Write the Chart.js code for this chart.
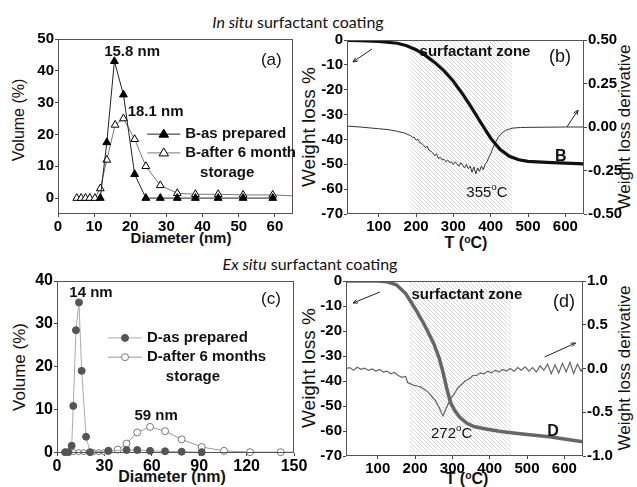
<!DOCTYPE html>
<html>
<head>
<meta charset="utf-8">
<script src="https://cdn.jsdelivr.net/npm/chart.js@4.4.0/dist/chart.umd.min.js"></script>
<style>
  body { margin: 0; background: #fff; width: 637px; height: 487px; overflow: hidden; position: relative;
         font-family: "Liberation Sans", Arial, sans-serif; color: #111; }
  canvas { position: absolute; left: 0; top: 0; }
  .t { position: absolute; white-space: nowrap; }
  .head { font-family: Lato, "Open Sans", sans-serif; font-size: 16px; transform: translate(-50%, -50%); }
  .rot { transform: translate(-50%, -50%) rotate(-90deg); }
  .xt { transform: translate(-50%, -50%); font-weight: bold; font-size: 15px; }
  sup { font-size: 0.65em; vertical-align: 0.5em; line-height: 0; }
</style>
</head>
<body>
<div class="t head" style="left:298px;top:21px"><i>In situ</i> surfactant coating</div>
<div class="t head" style="left:310px;top:263px"><i>Ex situ</i> surfactant coating</div>

<div class="t rot" style="left:19px;top:120px;font-size:16px">Volume (%)</div>
<div class="t xt" style="left:181px;top:237px">Diameter (nm)</div>
<div class="t rot" style="left:309px;top:127px;font-size:19px">Weight loss %</div>
<div class="t rot" style="left:625px;top:127px;font-size:17px">Weight loss derivative</div>
<div class="t xt" style="left:466px;top:243px;font-size:16px">T (<sup>o</sup>C)</div>

<div class="t rot" style="left:20px;top:367px;font-size:17px">Volume (%)</div>
<div class="t xt" style="left:172px;top:477px;font-size:16px">Diameter (nm)</div>
<div class="t rot" style="left:309px;top:368px;font-size:19px">Weight loss %</div>
<div class="t rot" style="left:625px;top:368px;font-size:17px">Weight loss derivative</div>
<div class="t xt" style="left:467px;top:479px;font-size:16px">T (<sup>o</sup>C)</div>

<canvas id="ca" width="637" height="487"></canvas>
<canvas id="cb" width="637" height="487"></canvas>
<canvas id="cc" width="637" height="487"></canvas>
<canvas id="cd" width="637" height="487"></canvas>

<script>
// (a) particle size, in situ coating
const aXTicks = [0, 10, 20, 30, 40, 50, 60];
const aYTicks = [0, 10, 20, 30, 40, 50];
const aPrepX = [11.7, 13.5, 15.6, 18.1, 21.2, 24.3, 28.3, 33, 38, 44.3, 51.2, 59.4];
const aPrepY = [0, 17.5, 43, 32.5, 7.5, 0, 0, 0, 0, 0, 0, 0];
const aStoreX = [5.2, 6.4, 7.6, 8.8, 10.2, 11.7, 13.5, 15.8, 18.1, 21.2, 24.3, 28.3, 33, 38, 44.3, 51.2, 59.4, 65];
const aStoreY = [0, 0, 0, 0, 0, 3, 12, 23, 25, 18.5, 10, 4, 1.5, 1.2, 1.2, 1, 1, 0.7];

// (b) TGA, in situ coating
const tTicks = [100, 200, 300, 400, 500, 600];
const lossTicks = [0, -10, -20, -30, -40, -50, -60, -70];
const bDerivTicks = [0.5, 0.25, 0, -0.25, -0.5];
const bT = [15, 50, 100, 150, 175, 200, 225, 250, 275, 300, 325, 350, 375, 400, 425, 450, 475, 500, 550, 600, 650];
const bLoss = [-0.2, -0.3, -0.6, -1.3, -2.3, -3.9, -6.2, -9.0, -12.4, -16.6, -21.8, -27.5, -33.6, -39.5, -44.0, -46.8, -48.2, -48.8, -49.2, -49.5, -49.8];
const bDerivT = [15, 50, 75, 100, 125, 150, 170, 185, 190, 195, 200, 205, 210, 215, 220, 225, 230, 235, 240, 245,
  250, 255, 260, 265, 270, 275, 280, 285, 290, 295, 300, 305, 310, 315, 320, 325, 330, 335, 340, 345,
  350, 355, 360, 365, 370, 375, 380, 385, 390, 395, 400, 405, 410, 415, 420, 430, 440, 450, 460, 480,
  500, 550, 600, 650];
const bDeriv = [0.005, 0, -0.005, -0.01, -0.015, -0.025, -0.035, -0.05, -0.06, -0.058, -0.075, -0.07, -0.09, -0.095, -0.105, -0.118, -0.11, -0.135, -0.14, -0.15,
  -0.165, -0.155, -0.18, -0.175, -0.19, -0.185, -0.2, -0.19, -0.205, -0.2, -0.215, -0.2, -0.212, -0.225, -0.205, -0.22, -0.235, -0.215, -0.24, -0.225,
  -0.26, -0.23, -0.27, -0.235, -0.255, -0.225, -0.245, -0.215, -0.2, -0.175, -0.155, -0.125, -0.1, -0.08, -0.06, -0.035, -0.02, -0.012, -0.006, -0.003,
  -0.002, -0.001, 0, 0];

// (c) particle size, ex situ coating
const cXTicks = [0, 30, 60, 90, 120, 150];
const cYTicks = [0, 10, 20, 30, 40];
const cPrepX = [5.1, 7.2, 9.3, 10.3, 12, 13.9, 15.6, 18.4, 21, 32.5, 44, 50.8, 58.9, 68.4, 78.9, 91.6];
const cPrepY = [0, 0, 1.5, 10.8, 28.5, 35, 19, 3.6, 0, 0.3, 0.5, 0.5, 0.3, 0.2, 0.1, 0];
const cStoreX = [10.6, 13.7, 16.9, 20, 23.2, 26.4, 29.5, 32.5, 38.4, 44, 50.8, 58.9, 68.4, 78.9, 91.6, 105.7, 122.2, 141.6, 150];
const cStoreY = [0, 0, 0, 0, 0, 0, 0, 0.3, 0.6, 2.0, 4.6, 5.9, 4.9, 3.0, 1.2, 0.3, 0, 0, 0];

// (d) TGA, ex situ coating
const dDerivTicks = [1, 0.5, 0, -0.5, -1];
const dT = [15, 100, 125, 150, 175, 200, 225, 250, 265, 275, 285, 295, 305, 320, 340, 360, 390, 430, 475, 520, 560, 600, 650];
const dLoss = [0, 0, -0.3, -1.5, -5, -11, -17.5, -25, -31, -36.5, -43, -48.5, -51.5, -54.5, -57, -58.3, -59.2, -60.2, -61, -61.7, -62.3, -63.2, -64.3];
const dDerivT = [15, 25, 35, 45, 55, 65, 75, 85, 95, 105, 115, 125, 135, 145, 155, 165, 175, 180, 185, 195, 205,
  215, 225, 235, 245, 255, 265, 270, 275, 285, 295, 305, 315, 325, 335, 345, 355, 365, 375, 385, 395,
  405, 415, 425, 435, 445, 455, 465, 475, 485, 495, 505, 515, 525, 535, 545, 555, 565, 575, 585, 595,
  605, 615, 625, 635, 645, 650];
const dDeriv = [0, 0.01, -0.02, 0.015, -0.01, 0.005, -0.02, -0.005, -0.03, -0.01, -0.04, -0.03, -0.06, -0.045, -0.08, -0.1, -0.09, -0.16, -0.17, -0.19, -0.2,
  -0.21, -0.24, -0.27, -0.32, -0.37, -0.45, -0.5, -0.54, -0.44, -0.35, -0.29, -0.22, -0.18, -0.14, -0.12, -0.08, -0.08, -0.05, -0.06, -0.03,
  -0.05, -0.02, -0.04, -0.01, -0.03, 0, -0.03, 0.01, -0.02, 0.02, -0.03, 0.01, -0.04, 0.03, -0.02, 0.05, -0.06, 0.04, -0.05, 0.06,
  -0.04, 0.07, -0.06, 0.05, -0.03, 0.01];

const FONT = '"Liberation Sans", Arial, sans-serif';
const zone = [185, 457];

const pts = (xs, ys) => xs.map((x, i) => ({x, y: ys[i]}));
const fixedTicks = list => s => { s.ticks = list.map(v => ({value: v})); };

function hatch(ctx) {
  const c = document.createElement('canvas');
  c.width = c.height = 4;
  const g = c.getContext('2d');
  g.strokeStyle = '#cfcfcf';
  g.lineWidth = 0.8;
  g.beginPath();
  g.moveTo(-1, -1); g.lineTo(5, 5);
  g.moveTo(-1, 3); g.lineTo(1, 5);
  g.moveTo(3, -1); g.lineTo(5, 1);
  g.stroke();
  return ctx.createPattern(c, 'repeat');
}

function marker(ctx, style, x, y, r, fill, stroke) {
  ctx.beginPath();
  if (style === 'triangle') {
    ctx.moveTo(x, y - r);
    ctx.lineTo(x + r * 0.95, y + r * 0.6);
    ctx.lineTo(x - r * 0.95, y + r * 0.6);
    ctx.closePath();
  } else {
    ctx.arc(x, y, r, 0, Math.PI * 2);
  }
  ctx.fillStyle = fill; ctx.fill();
  ctx.strokeStyle = stroke; ctx.lineWidth = 1; ctx.stroke();
}

// text with optional superscript parts, e.g. ['355', ['o'], 'C']
function rich(ctx, parts, x, y, size, weight) {
  const f = s => `${weight} ${s}px ${FONT}`;
  let w = 0;
  parts.forEach(p => { ctx.font = Array.isArray(p) ? f(size * 0.65) : f(size); w += ctx.measureText(Array.isArray(p) ? p[0] : p).width; });
  let cx = x - w / 2;
  ctx.textAlign = 'left';
  parts.forEach(p => {
    const sup = Array.isArray(p);
    const s = sup ? p[0] : p;
    ctx.font = sup ? f(size * 0.65) : f(size);
    ctx.textBaseline = 'middle';
    ctx.fillText(s, cx, sup ? y - size * 0.4 : y);
    cx += ctx.measureText(s).width;
  });
}

const extras = {
  id: 'extras',
  beforeDatasetsDraw(chart, args, o) {
    const {ctx, chartArea: a, scales: {x}} = chart;
    if (o.zone) {
      const x0 = x.getPixelForValue(o.zone[0]), x1 = x.getPixelForValue(o.zone[1]);
      ctx.save();
      ctx.fillStyle = hatch(ctx);
      ctx.fillRect(x0, a.top, x1 - x0, a.bottom - a.top);
      ctx.restore();
    }
  },
  afterDraw(chart, args, o) {
    const {ctx, chartArea: a, scales} = chart;
    const xs = scales.x, ys = scales.y;
    const px = v => xs.getPixelForValue(v), py = v => ys.getPixelForValue(v);
    ctx.save();
    ctx.strokeStyle = '#555';
    ctx.lineWidth = 1;
    ctx.strokeRect(Math.round(a.left) + 0.5, Math.round(a.top) + 0.5, Math.round(a.right - a.left) - 1, Math.round(a.bottom - a.top) - 1);
    (o.texts || []).forEach(t => {
      ctx.fillStyle = t.color || '#111';
      rich(ctx, t.parts, px(t.x), py(t.y), t.size, t.weight || 'bold');
    });
    (o.arrows || []).forEach(r => {
      const x0 = px(r[0]), y0 = py(r[1]), x1 = px(r[2]), y1 = py(r[3]);
      const ang = Math.atan2(y1 - y0, x1 - x0);
      ctx.strokeStyle = '#222';
      ctx.lineWidth = 1;
      ctx.beginPath();
      ctx.moveTo(x0, y0); ctx.lineTo(x1, y1);
      ctx.moveTo(x1 - 5 * Math.cos(ang - 0.4), y1 - 5 * Math.sin(ang - 0.4));
      ctx.lineTo(x1, y1);
      ctx.lineTo(x1 - 5 * Math.cos(ang + 0.4), y1 - 5 * Math.sin(ang + 0.4));
      ctx.stroke();
    });
    (o.legend || []).forEach(l => {
      const y = py(l.y);
      ctx.strokeStyle = l.line;
      ctx.lineWidth = 1;
      ctx.beginPath();
      ctx.moveTo(px(l.x0), y); ctx.lineTo(px(l.x1), y);
      ctx.stroke();
      marker(ctx, l.style, (px(l.x0) + px(l.x1)) / 2, y, l.r, l.fill, l.stroke);
      ctx.fillStyle = '#111';
      ctx.font = `bold 15px ${FONT}`;
      ctx.textAlign = 'left';
      ctx.textBaseline = 'middle';
      ctx.fillText(l.text, px(l.x1) + 5, y);
    });
    ctx.restore();
  }
};
Chart.register(extras);

function linearAxis(min, max, list, size, extra) {
  return Object.assign({
    type: 'linear', min, max,
    afterBuildTicks: fixedTicks(list),
    grid: {drawOnChartArea: false, drawTicks: true, tickLength: 3, color: '#444'},
    border: {display: false},
    ticks: {font: {family: FONT, size, weight: 'bold'}, color: '#000', padding: 1, autoSkip: false, maxRotation: 0}
  }, extra || {});
}

const base = (padding, extras, scales) => ({
  responsive: false,
  animation: false,
  events: [],
  layout: {padding},
  plugins: {legend: {display: false}, tooltip: {enabled: false}, extras},
  scales
});

// (a)
new Chart(document.getElementById('ca'), {
  type: 'scatter',
  data: {datasets: [
    {data: pts(aPrepX, aPrepY), showLine: true, borderColor: '#222', borderWidth: 1, clip: false,
     pointStyle: 'triangle', pointRadius: 4.5, pointBackgroundColor: '#000', pointBorderColor: '#000'},
    {data: pts(aStoreX, aStoreY), showLine: true, borderColor: '#777', borderWidth: 1, clip: false,
     pointStyle: 'triangle', pointRadius: aStoreX.map(v => v < 65 ? 4.5 : 0), pointBackgroundColor: '#fff', pointBorderColor: '#000'}
  ]},
  options: base({left: 28, right: 344, top: 39, bottom: 253}, {
    texts: [
      {x: 20.5, y: 45.9, parts: ['15.8 nm'], size: 15},
      {x: 27, y: 27, parts: ['18.1 nm'], size: 15},
      {x: 59, y: 43.4, parts: ['(a)'], size: 17, weight: 'normal'},
      {x: 46.8, y: 7.9, parts: ['storage'], size: 15}
    ],
    legend: [
      {x0: 24.7, x1: 33.8, y: 20.1, style: 'triangle', r: 5, fill: '#000', stroke: '#000', line: '#222', text: 'B-as prepared'},
      {x0: 24.7, x1: 33.8, y: 14.2, style: 'triangle', r: 5, fill: '#fff', stroke: '#000', line: '#777', text: 'B-after 6 month'}
    ]
  }, {
    x: linearAxis(0, 65, aXTicks, 15, {afterFit: s => { s.height = 20; }}),
    y: linearAxis(-5, 50, aYTicks, 15, {afterFit: s => { s.width = 30; }})
  })
});

// (b)
new Chart(document.getElementById('cb'), {
  type: 'scatter',
  data: {datasets: [
    {data: pts(bT, bLoss), showLine: true, borderColor: '#111', borderWidth: 3.2, pointRadius: 0, yAxisID: 'y'},
    {data: pts(bDerivT, bDeriv), showLine: true, borderColor: '#333', borderWidth: 1, pointRadius: 0, yAxisID: 'y2'}
  ]},
  options: base({left: 315, right: 8, top: 40, bottom: 253}, {
    zone,
    texts: [
      {x: 358, y: -4.8, parts: ['surfactant zone'], size: 15},
      {x: 586, y: -6.8, parts: ['(b)'], size: 18, weight: 'normal'},
      {x: 390, y: -61.5, parts: ['355', ['o'], 'C'], size: 15, weight: 'normal'},
      {x: 588, y: -47, parts: ['B'], size: 16}
    ],
    arrows: [[82, -3.6, 31, -8.85], [604, -35, 634, -28.2]]
  }, {
    x: linearAxis(15, 650, tTicks, 15, {afterFit: s => { s.height = 20; }}),
    y: linearAxis(-70, 0, lossTicks, 15, {afterFit: s => { s.width = 32; }}),
    y2: linearAxis(-0.5, 0.5, bDerivTicks, 15, {position: 'right', afterFit: s => { s.width = 45; },
      ticks: {font: {family: FONT, size: 15, weight: 'bold'}, color: '#000', padding: 1, autoSkip: false, callback: v => v.toFixed(2)}})
  })
});

// (c)
new Chart(document.getElementById('cc'), {
  type: 'scatter',
  data: {datasets: [
    {data: pts(cPrepX, cPrepY), showLine: true, borderColor: '#aaa', borderWidth: 1, clip: false,
     pointRadius: 3.5, pointBackgroundColor: '#555', pointBorderColor: '#555'},
    {data: pts(cStoreX, cStoreY), showLine: true, borderColor: '#999', borderWidth: 1, clip: false,
     pointRadius: cStoreX.map((v, i) => v >= 150 ? 0 : (cStoreY[i] === 0 && v < 35 ? 2.5 : 3.5)),
     pointBackgroundColor: '#fff', pointBorderColor: '#777'}
  ]},
  options: base({left: 27, right: 343, top: 281, bottom: 14}, {
    texts: [
      {x: 21.5, y: 37.2, parts: ['14 nm'], size: 15},
      {x: 62.7, y: 8.4, parts: ['59 nm'], size: 15},
      {x: 135.4, y: 35.8, parts: ['(c)'], size: 17, weight: 'normal'},
      {x: 86, y: 17.5, parts: ['storage'], size: 15}
    ],
    legend: [
      {x0: 32.3, x1: 53.8, y: 26.7, style: 'circle', r: 3.5, fill: '#555', stroke: '#555', line: '#aaa', text: 'D-as prepared'},
      {x0: 32.3, x1: 53.8, y: 22.2, style: 'circle', r: 3.5, fill: '#fff', stroke: '#777', line: '#999', text: 'D-after 6 months'}
    ]
  }, {
    x: linearAxis(0, 150, cXTicks, 16, {afterFit: s => { s.height = 20; }}),
    y: linearAxis(-0.2, 40, cYTicks, 16, {afterFit: s => { s.width = 30; }})
  })
});

// (d)
new Chart(document.getElementById('cd'), {
  type: 'scatter',
  data: {datasets: [
    {data: pts(dT, dLoss), showLine: true, borderColor: '#666', borderWidth: 3.5, pointRadius: 0, yAxisID: 'y'},
    {data: pts(dDerivT, dDeriv), showLine: true, borderColor: '#666', borderWidth: 1.2, pointRadius: 0, yAxisID: 'y2'}
  ]},
  options: base({left: 314, right: 9, top: 281, bottom: 11}, {
    zone,
    texts: [
      {x: 339, y: -5.6, parts: ['surfactant zone'], size: 15},
      {x: 599, y: -8.4, parts: ['(d)'], size: 18, weight: 'normal'},
      {x: 298, y: -61.2, parts: ['272', ['o'], 'C'], size: 15, weight: 'normal'},
      {x: 570, y: -60.4, parts: ['D'], size: 16}
    ],
    arrows: [[106, -4.4, 34, -8.8], [547, -30.4, 630, -24.8]]
  }, {
    x: linearAxis(15, 650, tTicks, 15, {afterFit: s => { s.height = 20; }}),
    y: linearAxis(-70, 0, lossTicks, 15, {afterFit: s => { s.width = 32; }}),
    y2: linearAxis(-1, 1, dDerivTicks, 15, {position: 'right', afterFit: s => { s.width = 45; },
      ticks: {font: {family: FONT, size: 15, weight: 'bold'}, color: '#000', padding: 1, autoSkip: false, callback: v => v.toFixed(1)}})
  })
});
</script>
</body>
</html>
